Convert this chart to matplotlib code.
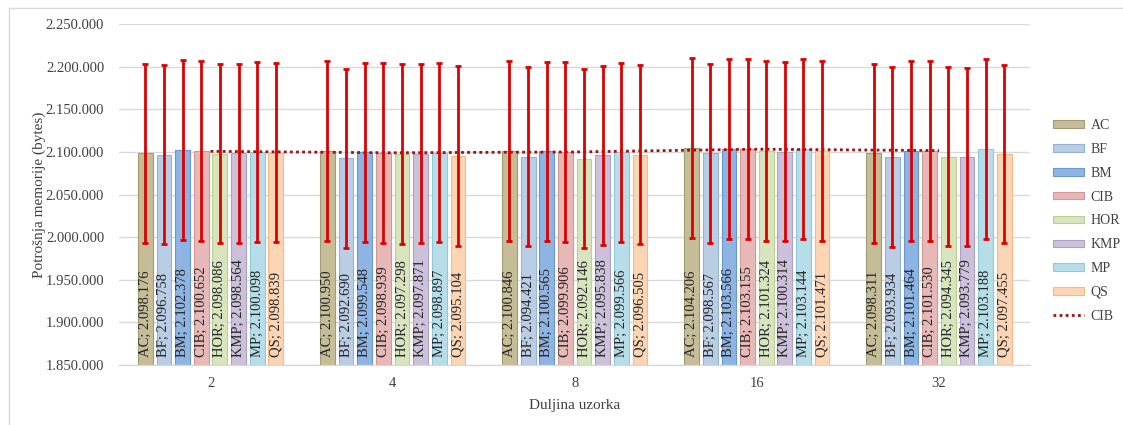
import matplotlib
matplotlib.use('Agg')
import matplotlib.pyplot as plt
import numpy as np

plt.rcParams['font.family'] = ['Liberation Serif', 'DejaVu Serif']

groups = ['2', '4', '8', '16', '32']
algoritmi = ['AC', 'BF', 'BM', 'CIB', 'HOR', 'KMP', 'MP', 'QS']
boje = ['#C4BD97', '#B9CDE5', '#8EB4E3', '#E6B9B8', '#D7E4BD', '#CCC1DA', '#B7DEE8', '#FCD5B5']
rubovi = ['#A39B72', '#95B3D7', '#6A97CF', '#D59593', '#BCD08F', '#AEA0C4', '#8CCBDA', '#F8B88A']

vrijednosti = {
    'AC':  [2098176, 2100950, 2100846, 2104206, 2098311],
    'BF':  [2096758, 2092690, 2094421, 2098567, 2093934],
    'BM':  [2102378, 2099548, 2100565, 2103566, 2101464],
    'CIB': [2100652, 2098939, 2099906, 2103155, 2101530],
    'HOR': [2098086, 2097298, 2092146, 2101324, 2094345],
    'KMP': [2098564, 2097871, 2095838, 2100314, 2093779],
    'MP':  [2100098, 2098897, 2099566, 2103144, 2103188],
    'QS':  [2098839, 2095104, 2096505, 2101471, 2097455],
}
greske = {
    'AC':  [104700, 105100, 105500, 105700, 105100],
    'BF':  [104900, 104900, 104900, 105100, 105100],
    'BM':  [105500, 105300, 105300, 105500, 105500],
    'CIB': [105500, 105500, 105300, 105500, 105500],
    'HOR': [104900, 105300, 105300, 105500, 105100],
    'KMP': [105100, 105300, 105100, 105300, 104700],
    'MP':  [105500, 104900, 105100, 105500, 105300],
    'QS':  [105100, 105100, 105100, 105500, 104700],
}
cib_linija = vrijednosti['CIB']


def fmt(v):
    return f"{v:,}".replace(',', '.')


fig = plt.figure(figsize=(11.23, 4.25), dpi=100)
ax = fig.add_axes([0.1064, 0.1412, 0.8108, 0.8023])

x = np.arange(len(groups))
slot = 0.1024
sirina = 0.081

handles = []
for j, a in enumerate(algoritmi):
    pos = x + (j - 3.5) * slot
    b = ax.bar(pos, np.array(vrijednosti[a]) - 1850000, sirina, bottom=1850000,
               color=boje[j], edgecolor=rubovi[j], linewidth=0.8, label=a, zorder=2)
    handles.append(b)
    ax.errorbar(pos, vrijednosti[a], yerr=greske[a], fmt='none', ecolor='#DD0000',
                elinewidth=2, capsize=2.5, capthick=2, zorder=4)
    for xi, v in zip(pos, vrijednosti[a]):
        ax.annotate(f"{a}; {fmt(v)}", (xi, 1850000), xytext=(0, 6),
                    textcoords='offset points', rotation=90, ha='center',
                    va='bottom', fontsize=10.5, color='#262626', zorder=5)

linija, = ax.plot(x, cib_linija, linestyle=(0, (1, 1.2)), color='#A01010', linewidth=2,
                  label='CIB', zorder=3)
handles.append(linija)

ax.set_xlim(-0.5, 4.5)
ax.set_ylim(1850000, 2250000)
ax.set_yticks(np.arange(1850000, 2250001, 50000))
ax.set_yticklabels([fmt(v) for v in np.arange(1850000, 2250001, 50000)])
ax.set_xticks(x)
ax.set_xticklabels(groups)
ax.tick_params(axis='both', length=0, labelsize=10.5, colors='#404040')
ax.tick_params(axis='y', pad=11)
ax.tick_params(axis='x', pad=9)
ax.grid(axis='y', color='#D9D9D9', linewidth=1, zorder=0)
ax.set_axisbelow(True)
for s in ['left', 'right', 'top']:
    ax.spines[s].set_visible(False)
ax.spines['bottom'].set_color('#D9D9D9')
ax.spines['bottom'].set_linewidth(1)

ax.set_ylabel('Potrošnja memorije (bytes)', fontsize=11, color='#404040', labelpad=0)
ax.set_xlabel('Duljina uzorka', fontsize=11, color='#404040', labelpad=6)

ax.legend(handles, algoritmi + ['CIB'], loc='upper left',
          bbox_to_anchor=(1042 / 1123, 1 - 108 / 425),
          bbox_transform=fig.transFigure, frameon=False, fontsize=10,
          handlelength=2.2, handleheight=0.45, labelspacing=0.78, handletextpad=0.5,
          borderpad=0.3, labelcolor='#404040')

# okvir grafikona
fig.add_artist(plt.Line2D([9 / 1123, 9 / 1123], [0, 1 - 8 / 425],
                          transform=fig.transFigure, color='#D9D9D9', linewidth=1))
fig.add_artist(plt.Line2D([9 / 1123, 1], [1 - 8 / 425, 1 - 8 / 425],
                          transform=fig.transFigure, color='#D9D9D9', linewidth=1))

plt.savefig('out.png', dpi=100)
